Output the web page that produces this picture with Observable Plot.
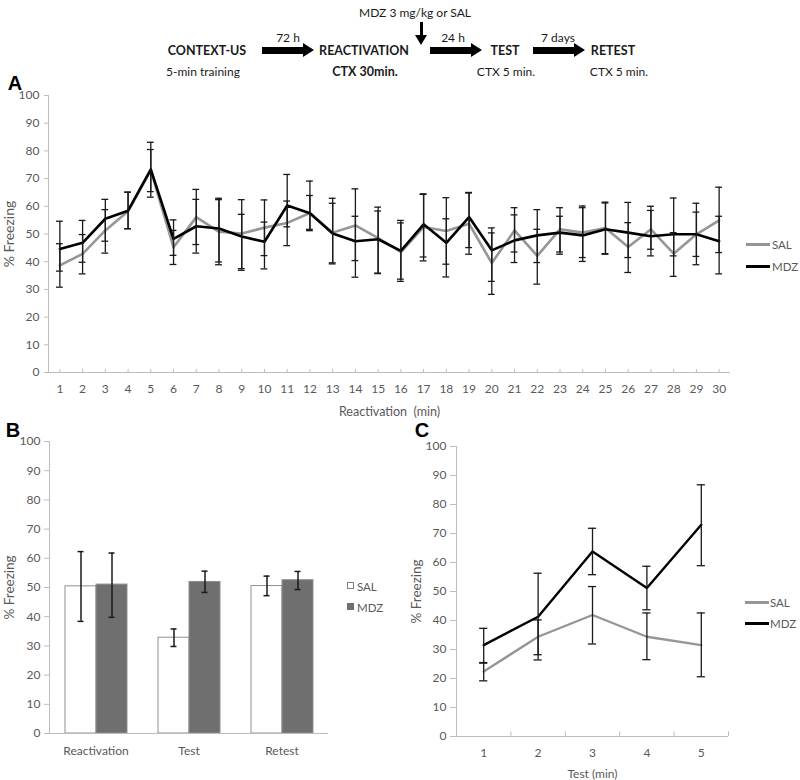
<!DOCTYPE html>
<html>
<head>
<meta charset="utf-8">
<script src="https://cdn.jsdelivr.net/npm/d3@7"></script>
<script src="https://cdn.jsdelivr.net/npm/@observablehq/plot@0.6"></script>
<style>
  html, body { margin: 0; padding: 0; background: #fff; }
  #root { position: relative; width: 800px; height: 780px; overflow: hidden; font-family: Lato, "Open Sans", sans-serif; color: #595959; }
  .abs { position: absolute; white-space: nowrap; }
  .ctr { transform: translate(-50%, -50%); }
  .diag { color: #1a1a1a; font-size: 12px; }
  .diag.b { font-weight: bold; font-size: 12.5px; }
  .arrow { position: absolute; height: 7px; background: #000; }
  .arrow::after { content: ""; position: absolute; right: -11px; top: -4px; border-left: 11px solid #000; border-top: 7.5px solid transparent; border-bottom: 7.5px solid transparent; }
  .down { position: absolute; width: 3px; background: #000; }
  .down::after { content: ""; position: absolute; left: -5px; bottom: -9px; border-top: 10px solid #000; border-left: 6.5px solid transparent; border-right: 6.5px solid transparent; }
  .letter { font-family: "Liberation Sans", Arial, sans-serif; font-weight: bold; font-size: 20px; color: #000; }
  .leg { font-size: 11.5px; color: #595959; }
  .sw { position: absolute; height: 3px; width: 24px; }
  .box { position: absolute; width: 7px; height: 7px; box-sizing: border-box; }
  .panel { position: absolute; }
</style>
</head>
<body>
<div id="root">
  <!-- protocol diagram -->
  <div class="abs ctr diag" style="left:415px;top:12px">MDZ 3 mg/kg or SAL</div>
  <div class="down" style="left:420px;top:22px;height:14px"></div>
  <div class="abs ctr diag b" style="left:207px;top:50px">CONTEXT-US</div>
  <div class="abs ctr diag" style="left:203px;top:71px">5-min training</div>
  <div class="abs ctr diag" style="left:288px;top:37px">72 h</div>
  <div class="arrow" style="left:262px;top:46.5px;width:41px"></div>
  <div class="abs ctr diag b" style="left:364px;top:50px">REACTIVATION</div>
  <div class="abs ctr diag b" style="left:365px;top:71px">CTX 30min.</div>
  <div class="abs ctr diag" style="left:453px;top:37px">24 h</div>
  <div class="arrow" style="left:430px;top:46.5px;width:41px"></div>
  <div class="abs ctr diag b" style="left:505px;top:50px">TEST</div>
  <div class="abs ctr diag" style="left:506px;top:71px">CTX 5 min.</div>
  <div class="abs ctr diag" style="left:558px;top:37px">7 days</div>
  <div class="arrow" style="left:533px;top:46.5px;width:41px"></div>
  <div class="abs ctr diag b" style="left:613px;top:50px">RETEST</div>
  <div class="abs ctr diag" style="left:619px;top:71px">CTX 5 min.</div>

  <div id="panelA" class="panel" style="left:0;top:80px"></div>
  <div id="panelB" class="panel" style="left:0;top:420px"></div>
  <div id="panelC" class="panel" style="left:400px;top:420px"></div>

  <div class="abs ctr letter" style="left:15px;top:83px">A</div>
  <div class="abs ctr letter" style="left:13px;top:430px">B</div>
  <div class="abs ctr letter" style="left:422px;top:430px">C</div>

  <!-- legend A -->
  <div class="sw" style="left:746px;top:242.5px;background:#969696"></div>
  <div class="abs leg" style="left:772px;top:244px;transform:translateY(-50%)">SAL</div>
  <div class="sw" style="left:746px;top:264.5px;background:#000"></div>
  <div class="abs leg" style="left:772px;top:266px;transform:translateY(-50%)">MDZ</div>
  <!-- legend B -->
  <div class="box" style="left:347px;top:582px;background:#fff;border:1px solid #7f7f7f"></div>
  <div class="abs leg" style="left:357px;top:586px;transform:translateY(-50%)">SAL</div>
  <div class="box" style="left:347px;top:603px;background:#6f6f6f;border:1px solid #6f6f6f"></div>
  <div class="abs leg" style="left:357px;top:607px;transform:translateY(-50%)">MDZ</div>
  <!-- legend C -->
  <div class="sw" style="left:745px;top:600.5px;background:#969696"></div>
  <div class="abs leg" style="left:770px;top:602px;transform:translateY(-50%)">SAL</div>
  <div class="sw" style="left:745px;top:621.5px;background:#000"></div>
  <div class="abs leg" style="left:770px;top:623px;transform:translateY(-50%)">MDZ</div>
</div>
<script>
// ---------- data ----------
const yTicks = [0, 10, 20, 30, 40, 50, 60, 70, 80, 90, 100];

// Panel A: reactivation minutes 1..30
const minutes = [1,2,3,4,5,6,7,8,9,10,11,12,13,14,15,16,17,18,19,20,21,22,23,24,25,26,27,28,29,30];
const salA   = [38.7,42.8,51.3,58.2,73.0,45.2,56.1,50.8,50.2,52.3,54.0,57.6,50.5,53.1,48.5,43.5,52.5,51.1,53.7,39.5,51.3,42.1,51.7,50.5,52.2,45.3,51.7,42.9,49.9,54.9];
const salLoA = [30.8,35.6,43.1,51.9,65.3,39.0,46.2,38.9,37.5,42.2,45.8,51.7,39.2,40.4,35.7,32.9,40.3,39.1,42.7,28.2,43.5,31.9,42.7,41.5,42.9,36.1,44.5,34.7,41.9,43.3];
const salHiA = [46.5,49.8,58.8,65.1,80.5,51.3,66.1,62.4,62.4,62.3,61.9,63.9,61.1,66.3,59.7,54.0,64.3,63.1,64.8,50.4,59.5,51.7,59.5,60.1,61.5,54.1,60.0,50.5,57.9,66.9];
const mdzA   = [44.6,46.8,55.5,58.4,73.3,48.2,52.8,52.0,49.1,47.2,60.3,57.5,50.2,47.4,48.1,43.9,53.5,46.8,56.1,44.1,47.7,49.5,50.5,49.5,51.7,50.5,49.2,49.9,49.9,47.4];
const mdzLoA = [36.6,39.8,47.4,51.9,63.3,42.3,43.1,39.9,36.9,37.4,52.6,51.2,39.6,34.4,35.9,33.7,41.7,34.5,45.1,32.9,39.7,39.7,43.5,40.1,42.7,41.5,42.1,42.1,38.9,35.6];
const mdzHiA = [54.6,54.9,62.5,65.1,83.1,55.1,62.5,62.9,57.1,54.3,71.5,69.1,62.9,56.4,58.3,54.9,64.5,55.5,65.0,52.2,56.9,58.8,56.4,59.5,61.2,61.4,58.5,63.0,61.1,56.4];

// Panel B: phase means
const phases = ["Reactivation", "Test", "Retest"];
const groups = ["SAL", "MDZ"];
const salB   = [50.4, 32.8, 50.5];
const salLoB = [38.4, 29.8, 47.2];
const salHiB = [62.3, 35.8, 53.9];
const mdzB   = [51.0, 51.9, 52.5];
const mdzLoB = [39.8, 48.3, 49.3];
const mdzHiB = [61.8, 55.6, 55.5];

// Panel C: test minutes 1..5
const testMinutes = [1, 2, 3, 4, 5];
const testTickBounds = [0.5, 1.5, 2.5, 3.5, 4.5, 5.5];
const salC   = [22.4, 34.4, 41.9, 34.4, 31.5];
const salLoC = [19.2, 26.4, 31.9, 26.5, 20.6];
const salHiC = [25.5, 40.2, 51.7, 42.6, 42.6];
const mdzC   = [31.5, 41.3, 63.8, 51.2, 73.0];
const mdzLoC = [25.3, 28.2, 55.8, 43.7, 58.9];
const mdzHiC = [37.3, 56.3, 71.8, 58.7, 86.8];

// ---------- styles ----------
const GRAY = "#969696", BLACK = "#000000", AXIS = "#bdbdbd", TEXT = "#595959", ERR = "#1a1a1a";
const baseStyle = {fontFamily: "Lato, 'Open Sans', sans-serif", fontSize: "12px", color: TEXT, background: "transparent", overflow: "visible"};

function table(xs, v, lo, hi) {
  return xs.map((m, i) => ({m, v: v[i], lo: lo[i], hi: hi[i]}));
}
function seriesMarks(rows, color, capHalf, lineWidth) {
  return [
    Plot.lineY(rows, {x: "m", y: "v", stroke: color, strokeWidth: lineWidth}),
    Plot.ruleX(rows, {x: "m", y1: "lo", y2: "hi", stroke: ERR, strokeWidth: 1.3}),
    Plot.ruleY(rows, {y: "lo", x1: d => d.m - capHalf, x2: d => d.m + capHalf, stroke: ERR, strokeWidth: 1.3}),
    Plot.ruleY(rows, {y: "hi", x1: d => d.m - capHalf, x2: d => d.m + capHalf, stroke: ERR, strokeWidth: 1.3})
  ];
}
// inward (upward) x tick marks, Excel style, length given in y data units
function innerTicks(xs, len) {
  return Plot.ruleX(xs, {x: d => d, y1: 0, y2: len, stroke: AXIS});
}

// ---------- Panel A ----------
const aSal = table(minutes, salA, salLoA, salHiA);
const aMdz = table(minutes, mdzA, mdzLoA, mdzHiA);
const plotA = Plot.plot({
  width: 800, height: 338,
  marginLeft: 48, marginRight: 70, marginTop: 15, marginBottom: 46,
  style: baseStyle,
  x: {domain: [0.5, 30.5]},
  y: {domain: [0, 100]},
  marks: [
    Plot.ruleX([0.5], {stroke: AXIS}),
    Plot.ruleY([0], {stroke: AXIS}),
    innerTicks(minutes, 1.1),
    Plot.axisY({ticks: yTicks, tickSize: 4, tickPadding: 5, stroke: AXIS, fill: TEXT, label: null}),
    Plot.axisY({ticks: [], fill: TEXT, fontSize: 14, label: "% Freezing", labelAnchor: "center", labelArrow: "none", labelOffset: 44}),
    Plot.axisX({ticks: minutes, tickSize: 0, tickPadding: 12, fill: TEXT, tickFormat: d => String(d), label: null}),
    Plot.axisX({ticks: [], fill: TEXT, fontSize: 12.5, label: "Reactivation  (min)", labelAnchor: "center", labelArrow: "none"}),
    ...seriesMarks(aSal, GRAY, 0.15, 2.6),
    ...seriesMarks(aMdz, BLACK, 0.15, 2.6)
  ]
});
document.getElementById("panelA").append(plotA);

// ---------- Panel B ----------
const barsB = phases.flatMap((p, i) => [
  {phase: p, group: "SAL", v: salB[i], lo: salLoB[i], hi: salHiB[i]},
  {phase: p, group: "MDZ", v: mdzB[i], lo: mdzLoB[i], hi: mdzHiB[i]}
]);
const plotB = Plot.plot({
  width: 340, height: 345,
  marginLeft: 48, marginRight: 11, marginTop: 21, marginBottom: 32,
  style: baseStyle,
  fx: {domain: phases, padding: 0},
  x: {domain: groups, paddingInner: 0, paddingOuter: 0.5, axis: null},
  y: {domain: [0, 100]},
  color: {domain: groups, range: ["#ffffff", "#6f6f6f"]},
  marks: [
    Plot.barY(barsB, {fx: "phase", x: "group", y: "v", fill: "group", stroke: "#8f8f8f", strokeWidth: 1}),
    Plot.ruleY([0], {stroke: AXIS}),
    Plot.ruleX(barsB, {fx: "phase", x: "group", y1: "lo", y2: "hi", stroke: ERR, strokeWidth: 1.5}),
    Plot.tickY(barsB, {fx: "phase", x: "group", y: "lo", stroke: ERR, strokeWidth: 1.5, insetLeft: 12.5, insetRight: 12.5}),
    Plot.tickY(barsB, {fx: "phase", x: "group", y: "hi", stroke: ERR, strokeWidth: 1.5, insetLeft: 12.5, insetRight: 12.5}),
    Plot.axisY({ticks: yTicks, tickSize: 5, tickPadding: 4, stroke: AXIS, fill: TEXT, label: null}),
    Plot.axisY({ticks: [], fill: TEXT, fontSize: 13.5, label: "% Freezing", labelAnchor: "center", labelArrow: "none", labelOffset: 45}),
    Plot.frame({anchor: "left", stroke: AXIS, facetAnchor: "left"}),
    Plot.axisFx({anchor: "bottom", tickSize: 0, tickPadding: 13, fill: TEXT, label: null})
  ]
});
document.getElementById("panelB").append(plotB);

// ---------- Panel C ----------
const cSal = table(testMinutes, salC, salLoC, salHiC);
const cMdz = table(testMinutes, mdzC, mdzLoC, mdzHiC);
const plotC = Plot.plot({
  width: 400, height: 360,
  marginLeft: 56, marginRight: 72, marginTop: 26, marginBottom: 44,
  style: baseStyle,
  x: {domain: [0.5, 5.5]},
  y: {domain: [0, 100]},
  marks: [
    Plot.ruleX([0.5], {stroke: AXIS}),
    Plot.ruleY([0], {stroke: AXIS}),
    innerTicks(testTickBounds, 1.6),
    Plot.axisY({ticks: yTicks, tickSize: 6, tickPadding: 4, stroke: AXIS, fill: TEXT, label: null}),
    Plot.axisY({ticks: [], fill: TEXT, fontSize: 13.5, label: "% Freezing", labelAnchor: "center", labelArrow: "none", labelOffset: 45}),
    Plot.axisX({ticks: testMinutes, tickSize: 0, tickPadding: 12, fill: TEXT, tickFormat: d => String(d),
      label: "Test (min)", labelAnchor: "center", labelArrow: "none"}),
    ...seriesMarks(cSal, GRAY, 0.075, 2.4),
    ...seriesMarks(cMdz, BLACK, 0.075, 2.4)
  ]
});
document.getElementById("panelC").append(plotC);
</script>
</body>
</html>
